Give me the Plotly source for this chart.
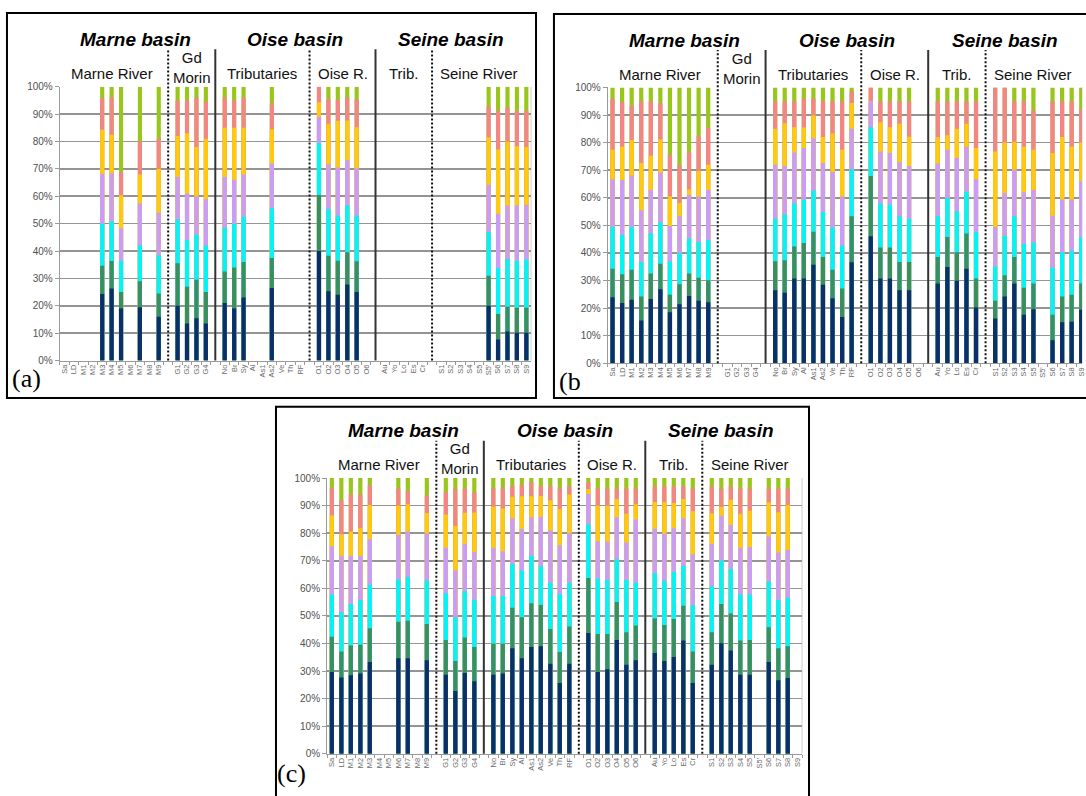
import plotly.graph_objects as go

W, H = 1086, 796

# ---------------- categories (gaps are blank separator slots) ----------------
CATEGORIES = ["Sa", "LD", "M1", "M2", "M3", "M4", "M5", "M6", "M7", "M8", "M9", " ",
              "G1", "G2", "G3", "G4", "  ",
              "No", "Br", "Sy", "Al", "As1", "As2", "Ve", "Th", "RF", "   ",
              "O1", "O2", "O3", "O4", "O5", "O6", "    ",
              "Au", "Yo", "Lo", "Es", "Cr", "     ",
              "S1", "S2", "S3", "S4", "S5", "S5'", "S6", "S7", "S8", "S9"]
GAPS = [" ", "  ", "   ", "    ", "     "]
GAP_STYLES = ["dot", "solid", "dot", "solid", "dot"]

GROUPS = [("Marne River", "Sa", "M9"), ("Gd<br>Morin", "G1", "G4"),
          ("Tributaries", "No", "RF"), ("Oise R.", "O1", "O6"),
          ("Trib.", "Au", "Cr"), ("Seine River", "S1", "S8")]
BASINS = [("Marne basin", "Sa", "G4"), ("Oise basin", "No", "O6"), ("Seine basin", "Au", "S8")]

SERIES_NAMES = ["Class 1", "Class 2", "Class 3", "Class 4", "Class 5", "Class 6", "Class 7"]
COLORS = ["#0b2f6b", "#3a8f5e", "#00F5F5", "#C99CF7", "#FFC90E", "#F58585", "#99C61A"]

# ---------------- panel (a): cumulative tops (%) of each class ----------------
A_BARS = ["M3", "M4", "M5", "M7", "M9", "G1", "G2", "G3", "G4", "No", "Br", "Sy", "As2",
          "O1", "O2", "O3", "O4", "O5", "S5'", "S6", "S7", "S8", "S9"]
A_C1 = [24.3, 26.3, 19.0, 19.5, 16.0, 20.0, 13.5, 15.5, 13.5, 21.0, 19.0, 23.0, 26.5,
        40.0, 25.3, 24.0, 27.8, 25.0, 20.0, 7.7, 10.6, 10.2, 10.2]
A_C2 = [34.6, 36.4, 25.0, 29.0, 24.5, 35.5, 27.0, 29.5, 25.0, 32.5, 34.0, 36.0, 37.5,
        60.5, 38.3, 36.5, 39.6, 36.3, 31.0, 17.0, 19.7, 19.3, 19.3]
A_C3 = [50.0, 50.8, 36.5, 42.0, 38.5, 51.5, 44.0, 46.0, 42.0, 48.5, 50.0, 52.5, 55.5,
        79.5, 55.4, 53.0, 56.7, 53.0, 47.0, 33.8, 37.1, 36.5, 36.9]
A_C4 = [68.2, 68.4, 48.2, 57.5, 54.0, 67.0, 61.0, 60.0, 59.0, 67.0, 66.0, 68.0, 72.0,
        89.0, 71.7, 70.5, 73.2, 70.2, 64.2, 53.6, 56.6, 56.6, 56.9]
A_C5 = [84.3, 82.5, 60.4, 68.0, 70.0, 82.0, 83.0, 78.0, 81.0, 85.0, 85.0, 85.0, 84.5,
        94.3, 86.5, 87.6, 87.7, 85.2, 81.6, 77.1, 79.9, 78.3, 78.0]
A_C6 = [95.8, 96.1, 68.8, 80.0, 81.0, 95.0, 95.0, 96.0, 94.5, 96.0, 95.0, 96.0, 94.0,
        100.0, 95.5, 95.2, 96.0, 95.4, 92.8, 91.2, 92.4, 91.2, 91.2]
A_C7 = [100.0] * 23

# ---------------- panel (b) ----------------
B_BARS = ["Sa", "LD", "M1", "M2", "M3", "M4", "M5", "M6", "M7", "M8", "M9",
          "No", "Br", "Sy", "Al", "As1", "As2", "Ve", "Th", "RF",
          "O1", "O2", "O3", "O4", "O5", "Au", "Yo", "Lo", "Es", "Cr",
          "S1", "S2", "S3", "S4", "S5", "S6", "S7", "S8", "S9"]
B_C1 = [23.9, 21.8, 23.0, 15.5, 23.3, 26.8, 18.5, 21.4, 24.4, 22.7, 22.1,
        26.5, 25.6, 30.7, 30.7, 35.7, 28.5, 23.6, 16.8, 36.6,
        46.0, 30.7, 30.7, 26.5, 26.5, 28.9, 34.9, 29.9, 34.3, 20.2,
        16.2, 24.2, 28.9, 17.6, 19.6, 8.3, 14.9, 15.0, 19.4]
B_C2 = [34.3, 32.3, 33.9, 24.2, 32.5, 36.1, 24.8, 28.6, 32.5, 31.0, 30.1,
        37.0, 37.3, 42.3, 43.6, 47.7, 38.5, 33.9, 27.1, 53.3,
        67.9, 42.0, 42.0, 36.7, 36.7, 38.5, 45.8, 40.2, 47.0, 30.7,
        22.7, 31.9, 38.5, 27.4, 28.9, 17.6, 24.2, 24.8, 28.9]
B_C3 = [49.4, 46.5, 49.4, 36.7, 47.1, 51.0, 36.9, 40.0, 45.2, 44.0, 44.6,
        52.4, 53.9, 57.9, 59.3, 62.6, 54.8, 49.2, 42.6, 70.3,
        85.6, 57.9, 57.5, 53.3, 52.4, 53.3, 59.9, 55.1, 62.2, 47.6,
        35.1, 46.2, 53.3, 43.2, 43.8, 34.6, 40.2, 40.8, 45.6]
B_C4 = [66.7, 66.4, 68.1, 55.5, 62.8, 69.1, 49.8, 53.3, 61.0, 60.5, 62.8,
        72.0, 71.5, 76.4, 78.0, 81.6, 72.6, 69.3, 60.5, 85.0,
        95.0, 76.8, 76.2, 72.9, 71.5, 72.4, 77.4, 74.4, 78.5, 66.7,
        49.4, 61.7, 70.2, 62.0, 62.8, 53.5, 59.4, 59.4, 66.0]
B_C5 = [77.4, 78.5, 80.9, 72.6, 75.2, 81.1, 60.5, 58.1, 63.0, 69.7, 72.0,
        85.0, 87.0, 85.6, 85.5, 89.8, 82.0, 83.3, 77.4, 94.4,
        95.0, 87.4, 85.6, 86.8, 82.1, 81.9, 82.7, 85.0, 86.8, 78.0,
        76.8, 80.0, 80.3, 78.5, 77.4, 76.2, 82.0, 78.5, 80.0]
B_C6 = [95.9, 94.7, 93.5, 95.0, 95.0, 94.4, 75.5, 71.9, 76.5, 82.4, 85.4,
        95.0, 95.0, 95.0, 96.0, 96.0, 95.0, 95.0, 95.0, 98.6,
        100.0, 95.0, 95.0, 95.0, 95.0, 95.0, 95.0, 95.0, 95.0, 95.0,
        100.0, 100.0, 95.0, 95.0, 91.6, 95.0, 95.0, 95.0, 92.0]
B_C7 = [100.0] * 39

# ---------------- panel (c) ----------------
C_BARS = ["Sa", "LD", "M1", "M2", "M3", "M6", "M7", "M9", "G1", "G2", "G3", "G4",
          "No", "Br", "Sy", "Al", "As1", "As2", "Ve", "Th", "RF",
          "O1", "O2", "O3", "O4", "O5", "O6", "Au", "Yo", "Lo", "Es", "Cr",
          "S1", "S2", "S3", "S4", "S5", "S6", "S7", "S8"]
C_C1 = [29.7, 27.7, 28.5, 29.1, 33.3, 34.7, 34.7, 33.9, 28.7, 22.8, 29.3, 26.3,
        28.7, 29.1, 38.3, 34.7, 38.7, 39.0, 32.7, 25.7, 32.7,
        43.8, 29.7, 30.7, 41.3, 32.3, 33.9, 36.6, 33.7, 35.1, 41.1, 25.7,
        32.3, 40.1, 37.5, 28.7, 28.7, 33.3, 26.7, 27.5]
C_C2 = [42.5, 37.1, 39.3, 39.6, 45.5, 47.9, 48.3, 47.1, 41.3, 33.7, 42.2, 38.7,
        39.9, 39.9, 53.0, 49.5, 54.6, 54.0, 45.3, 36.9, 46.2,
        63.8, 43.5, 43.5, 55.1, 44.1, 46.5, 49.1, 46.7, 48.9, 53.7, 37.1,
        44.1, 54.3, 50.9, 41.1, 41.3, 45.9, 38.3, 39.0]
C_C3 = [57.8, 51.3, 54.3, 55.7, 61.3, 63.2, 64.1, 62.9, 58.2, 49.5, 59.0, 55.8,
        57.2, 57.2, 68.8, 66.4, 71.8, 68.0, 62.0, 58.0, 62.0,
        83.2, 63.5, 63.0, 70.6, 63.0, 62.0, 65.6, 62.8, 66.0, 68.2, 53.9,
        60.8, 70.2, 67.0, 57.8, 57.8, 62.4, 55.8, 56.6]
C_C4 = [75.3, 71.8, 71.8, 71.8, 77.8, 79.4, 80.6, 80.0, 74.7, 66.6, 76.2, 73.2,
        74.7, 73.5, 85.4, 81.5, 85.8, 86.0, 81.0, 75.6, 80.0,
        94.2, 77.1, 76.9, 85.8, 76.6, 85.0, 81.6, 79.8, 81.8, 85.4, 72.4,
        76.2, 86.3, 83.0, 74.7, 75.0, 78.8, 73.0, 73.9]
C_C5 = [86.4, 79.6, 80.6, 81.8, 90.2, 90.0, 90.5, 87.3, 86.8, 82.6, 87.4, 87.5,
        89.6, 89.0, 93.2, 93.4, 93.4, 93.5, 92.0, 88.8, 94.0,
        96.0, 90.0, 90.0, 92.4, 87.1, 90.5, 91.3, 91.3, 91.0, 92.4, 88.0,
        87.2, 89.5, 92.1, 87.1, 88.2, 91.2, 87.6, 90.2]
C_C6 = [96.4, 92.0, 94.0, 94.0, 97.4, 96.2, 95.2, 93.8, 95.0, 96.0, 96.2, 94.8,
        96.4, 96.4, 97.1, 97.6, 98.6, 97.0, 97.0, 96.5, 97.0,
        98.5, 96.2, 96.2, 96.2, 96.2, 96.2, 96.9, 97.0, 97.0, 97.0, 96.2,
        96.9, 96.2, 96.9, 96.2, 96.2, 96.2, 96.2, 96.2]
C_C7 = [100.0] * 40

PANELS = [
    dict(bars=A_BARS, tops=[A_C1, A_C2, A_C3, A_C4, A_C5, A_C6, A_C7], label="(a)",
         xpx=(60, 533), ypx=(82, 360), xmax=49.5, box=(7, 7, 538, 398), lab=(27, 378)),
    dict(bars=B_BARS, tops=[B_C1, B_C2, B_C3, B_C4, B_C5, B_C6, B_C7], label="(b",
         xpx=(610, 1086), ypx=(82.7, 362.7), xmax=49.08, box=(556, 8, 1095, 398), lab=(572, 381)),
    dict(bars=C_BARS, tops=[C_C1, C_C2, C_C3, C_C4, C_C5, C_C6, C_C7], label="(c)",
         xpx=(328.3, 805), ypx=(479.3, 759.3), xmax=49.5, box=(277, 407, 812, 805), lab=(293, 779)),
]

FONT = "Liberation Sans, Arial, sans-serif"


def px_x(x):
    return x / W


def px_y(y):
    return 1 - y / H


fig = go.Figure()
shapes, annotations = [], []

for p, panel in enumerate(PANELS):
    sfx = "" if p == 0 else str(p + 1)
    xa, ya = "x" + sfx, "y" + sfx
    # overlapping cumulative bars, drawn from top class down to bottom class
    for k in reversed(range(7)):
        lookup = dict(zip(panel["bars"], panel["tops"][k]))
        yvals = [lookup.get(c) for c in CATEGORIES]
        fig.add_trace(go.Bar(x=CATEGORIES, y=yvals, name=SERIES_NAMES[k],
                             marker=dict(color=COLORS[k], line=dict(width=0)),
                             xaxis=xa, yaxis=ya, showlegend=False, hoverinfo="skip"))

    x0, x1 = panel["xpx"]
    ytop, ybot = panel["ypx"]
    fig.layout["xaxis" + sfx] = dict(
        domain=[px_x(x0), min(1.0, px_x(x1))], anchor=ya, type="category",
        categoryorder="array", categoryarray=CATEGORIES, range=[-0.5, panel["xmax"]],
        tickangle=-90, tickfont=dict(family=FONT, size=7.5, color="#6a6a6a"),
        ticks="outside", tickson="boundaries", ticklen=3, tickcolor="#9a9a9a",
        showline=True, linecolor="#9a9a9a", linewidth=1, showgrid=False,
        zeroline=False, fixedrange=True)
    fig.layout["yaxis" + sfx] = dict(
        domain=[px_y(ybot), px_y(ytop)], anchor=xa, range=[0, 100], dtick=10,
        ticksuffix="%", tickfont=dict(family=FONT, size=10, color="#505050"),
        showgrid=True, gridcolor="#949494", gridwidth=1.6, showline=True,
        linecolor="#9a9a9a", linewidth=1, ticks="outside", ticklen=4,
        tickcolor="#9a9a9a", zeroline=False, fixedrange=True)

    plot_h = ybot - ytop
    dom = ya + " domain"
    # light plot-area border on the right
    shapes.append(dict(type="line", xref=xa + " domain", yref=dom, x0=1, x1=1, y0=0, y1=1,
                       line=dict(color="#cfcfcf", width=1), layer="below"))
    # group separators
    for g, style in zip(GAPS, GAP_STYLES):
        gi = CATEGORIES.index(g)
        shapes.append(dict(type="line", xref=xa, yref=dom, x0=gi, x1=gi,
                           y0=0, y1=1 + 38 / plot_h,
                           line=dict(color="#111" if style == "dot" else "#333", width=2,
                                     dash="2px,2px" if style == "dot" else "solid")))
    # group labels
    for text, a, b in GROUPS:
        cx = (CATEGORIES.index(a) + CATEGORIES.index(b)) / 2
        off = 19.5 if "<br>" in text else 13.5
        annotations.append(dict(text=text, xref=xa, yref=dom, x=cx, y=1 + off / plot_h,
                                showarrow=False, xanchor="center", yanchor="middle",
                                font=dict(family=FONT, size=15, color="#111")))
    for text, a, b in BASINS:
        cx = (CATEGORIES.index(a) + CATEGORIES.index(b)) / 2
        annotations.append(dict(text="<b><i>" + text + "</i></b>", xref=xa, yref=dom,
                                x=cx, y=1 + 48 / plot_h, showarrow=False,
                                xanchor="center", yanchor="middle",
                                font=dict(family=FONT, size=19, color="#000")))
    # panel frame
    bx0, by0, bx1, by1 = panel["box"]
    shapes.append(dict(type="rect", xref="paper", yref="paper",
                       x0=px_x(bx0), x1=px_x(bx1), y0=px_y(by1), y1=px_y(by0),
                       line=dict(color="#000", width=2), fillcolor="rgba(0,0,0,0)"))
    lx, ly = panel["lab"]
    annotations.append(dict(text=panel["label"], xref="paper", yref="paper",
                            x=px_x(lx), y=px_y(ly), showarrow=False,
                            xanchor="center", yanchor="middle",
                            font=dict(family="Liberation Serif, Times New Roman, serif",
                                      size=26, color="#000")))

fig.update_layout(width=W, height=H, margin=dict(l=0, r=0, t=0, b=0),
                  paper_bgcolor="white", plot_bgcolor="white",
                  barmode="overlay", bargap=0.56, showlegend=False,
                  shapes=shapes, annotations=annotations, hovermode=False)

fig.write_html("out.html", config={"displayModeBar": False, "staticPlot": True},
               post_script="document.body.style.margin='0';document.body.style.overflow='hidden';")
